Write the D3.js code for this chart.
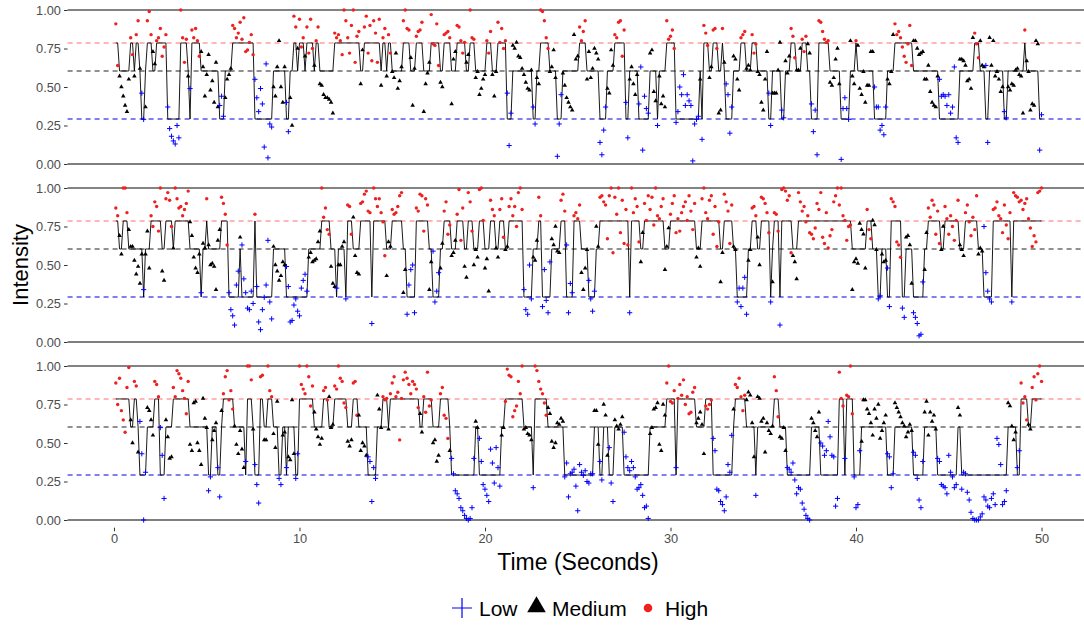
<!DOCTYPE html>
<html><head><meta charset="utf-8">
<script src="https://cdn.jsdelivr.net/npm/d3@7"></script>
<style>body{margin:0;background:#fff;} svg{display:block;font-family:"Liberation Sans",Arial,Helvetica,sans-serif;}</style>
</head><body><svg id="c" width="1084" height="628"></svg>
<script>
const stateNames = ["Low", "Medium", "High"];
const stateLevels = [0.292, 0.604, 0.786];
const yTicks = [0, 0.25, 0.5, 0.75, 1];
const yTickLabels = ["0.00", "0.25", "0.50", "0.75", "1.00"];
const xTicks = [0, 10, 20, 30, 40, 50];
const timeStep = 0.1;
// runs of [state (0 Low,1 Medium,2 High), intensity values in percent]
const panel1 = [[2,[91,64]],[1,[57,50,44,38,34,55]],[2,[82,71]],[1,[57]],[2,[84,93]],[1,[62]],[0,[46,29]],[1,[37]],[2,[93,99,84]],[1,[73,65]],[2,[80,82,88,70,76,84]],[0,[37,23,18,15,13,25,17]],[2,[100,82,66,81]],[1,[57]],[0,[49]],[2,[87,82,88,80,70]],[1,[73,63,44,58,71,48,54,40,66,37]],[0,[38,44,31]],[1,[43,55,58,62]],[2,[90,88,82,85,92,81,95,73,74,79,84,71]],[0,[55,43,34,49,39,11,65,4,26,24]],[1,[50,44,63,80,50,40,63]],[0,[40,21]],[1,[43,25]],[2,[96,89]],[1,[75]],[2,[94,76,82]],[1,[70]],[2,[89,72,94,75]],[1,[64]],[2,[80,89]],[1,[52,51,45,43,43,42,40,33]],[2,[85,82,84,80,71,100,93,82,72,90,100,66,83,86]],[1,[52,74]],[2,[89,96,72,90,67,93,85,66,94]],[1,[51]],[2,[82,88]],[1,[57]],[2,[84,72]],[1,[60,56,72,49,54,63]],[2,[93,100,88,87]],[1,[69,38,62]],[2,[83,86,87,92]],[1,[34,52,59,66]],[2,[97,78,77,91,64]],[1,[53,50]],[2,[84,85,86,82]],[1,[39,68,73]],[2,[90,89,80,72,79]],[1,[66,71]],[2,[100,82,81]],[1,[56,60,45,49,55,58]],[2,[80,72,86]],[1,[58,44,60]],[2,[92,79,88,75,80]],[0,[46,12,33]],[1,[77,75,79,70,69,62,58,53,49,48,61]],[0,[37,26]],[1,[56,52]],[2,[100,99,93,82,75]],[1,[60,63,74,56]],[0,[5,26,45]],[1,[59,51,43,40,37,35,84,68,70]],[2,[89,80,86,93]],[1,[55,73,56,62,75,72,68]],[0,[14,6,22,37]],[1,[49,46,74,64]],[2,[84,82,92,93,70,87]],[0,[40,17]],[1,[55,63,52,45,58]],[0,[39,63,9,44,36,33]],[1,[72,74,47,41]],[0,[25]],[1,[57,39,44,37]],[2,[93,81,83,87,75]],[0,[27,34,50,45,58,38,45,41,38,2,26,29,31]],[1,[55]],[0,[16]],[2,[90,85,77]],[1,[56,63]],[2,[87,88,75]],[1,[33,35]],[2,[88]],[1,[66]],[0,[52,45,20,37]],[1,[70,68,55,48]],[2,[82,84,86]],[1,[62,64,61]],[2,[84,72,78]],[1,[60,58,40,35,55,73]],[0,[46,25]],[1,[46,46,46,61,79]],[0,[35,30]],[1,[67,59,70]],[2,[88,83,69]],[1,[61,61,75]],[2,[81,73,83]],[1,[78,72]],[0,[39,21,35,6]],[2,[93,92,86,81,79,80]],[1,[53,51,56,68,75,52]],[0,[3,36,43,36,29]],[1,[80,57,52]],[2,[80]],[1,[77,49,45,60,40,51,51,73,73]],[0,[50,37,37,22,25,19,37]],[1,[55,52,60,84]],[2,[91,84,86,82,76,70,66,78,90,64]],[1,[80,80,75,71,72,73,55,55,64,47,40,38,37,57]],[0,[55,44,45,44,38,45,33,37,63,17,14]],[1,[68,68,67,64,54,55,49,82]],[2,[85,78,69]],[1,[80,64,63]],[0,[64,14]],[1,[82,64,80,57,60,55,47,50]],[0,[34,30]],[1,[50,48,52,51,61,62,58,57,33]],[2,[87]],[1,[67,60,35,39,38,80,78]],[0,[9,32]]];
const panel2 = [[2,[87,82]],[1,[69,57]],[2,[100,100,84]],[1,[73,62,62,53,44,49,38,57]],[0,[34]],[1,[57,72,48]],[2,[82,75,91,88,72,100]],[1,[46,40]],[2,[93,97,92,75]],[1,[61]],[2,[100,93,87,88,82,86,90,98]],[1,[78,69,55,48,45,57]],[0,[32]],[1,[64,61]],[2,[93]],[1,[63,50,51,49,34,66,73]],[2,[94,90,83,63]],[0,[32,21,17,11,37,46]],[1,[68]],[0,[63,41,32,22,21,33,25]],[2,[83]],[0,[36,13,8,21,29,37,66,26,15]],[1,[62,50,46,40,43,52,50]],[0,[49,36,13,14,24,28,20,17,35,40,44,33]],[1,[55,58,52,53,54,65,72]],[2,[100,81,87,73,70]],[1,[49,38,36]],[0,[35]],[1,[50,50,62,65]],[0,[28]],[2,[89,88,70]],[1,[81,56,45,44]],[2,[90,91,96,98,85,84]],[0,[12]],[2,[100,93,88,93,84,78,56]],[1,[43,65,62]],[2,[86,83,84,88,95,97]],[1,[32,47]],[0,[18,37,47,50,19]],[2,[87,85,96,95,72,93,89]],[1,[34,52]],[0,[59,26,33,45]],[1,[48,64]],[2,[85,91,70,76]],[1,[56,58,66]],[2,[83,99,66,87]],[1,[49,42]],[2,[97,91,72]],[1,[50,60,55]],[2,[99,100,79]],[1,[48,54,33]],[2,[92,86,82]],[1,[61,55]],[2,[86,93,68]],[1,[60,62]],[2,[88,93,82,88,75,97,100,86]],[0,[34,21,18,50,28]],[1,[55,53,66]],[2,[94,82]],[0,[23,47,27,19,52]],[1,[67,63,75,59,58]],[2,[92,96,85]],[0,[63,19,38,32]],[2,[82,84,80,89]],[1,[45,34,48,60]],[0,[40,28,20,33]],[1,[75,62]],[2,[94,95,91,89,67,95,100,58,94,83,100,71,92,64,86,63]],[0,[19]],[2,[100,84,93,88,65]],[1,[52,71]],[2,[90,79,95,86,94,76,100,82,80,88,93]],[1,[47,62,74]],[2,[83,90,95,71,80,72,84,88,91,79,95,85,73,90]],[1,[55,61,49]],[2,[93,100,84,80,92,95,70,88,62,78]],[1,[39,58]],[2,[96,91,85,64,89]],[1,[62,60]],[0,[26,35,23,35,42,18]],[1,[53,60]],[2,[87,88,82]],[1,[68,50]],[2,[94,93,90,84,71]],[0,[26]],[1,[39]],[2,[84,83,72]],[0,[11]],[2,[99,100,98,92,95,58]],[1,[56,52,41]],[2,[97,91,85,88,78,82,71,70,67,74,90,86,97,68,64,84,61,69,73,91,95,100,89,100,82,79,66,75,76]],[1,[34,52,54,51,77,73,70,48]],[2,[86,73,67]],[1,[79,76,60]],[0,[28,30]],[1,[57,52,53]],[0,[48,23]],[2,[93,91,88,65,63,55]],[0,[22,16]],[1,[68,69,63,38]],[0,[19,16,12,4,5,39]],[1,[47,71]],[2,[87,81,92,89,70,85,64]],[1,[60,75]],[2,[88,80,70,82,75,66,79,92]],[1,[63,60,56]],[2,[84,89,78,69,81,73,95]],[1,[57,61,59]],[0,[75,45,33,28,26]],[2,[86,87,91,82,80,71,89,76,67,84]],[0,[26]],[2,[97,95,94,91,92,86,90,93,80,74,62,69,65,97,98,100]]];
const panel3 = [[2,[89,75,92,71,65,57,86,99]],[1,[65,50]],[2,[90,87]],[1,[44]],[0,[64,43,0,31]],[1,[73,71,65,55]],[2,[90,88,80]],[0,[60,42,14]],[1,[65,54,40,41]],[2,[86,80,97,95,92,84,79,69,90]],[1,[49,45,76,77,50,45,36,79,66,60]],[0,[19,28]],[1,[52,58,63]],[0,[34,15]],[1,[71]],[2,[82,93,97,78,84,72]],[1,[61,49,43,58,46,34]],[0,[38]],[2,[100,100,91]],[1,[59]],[0,[36,23,11]],[2,[93,94]],[1,[52,52]],[2,[100,84,80]],[1,[56,47,77]],[0,[27,23]],[1,[55,57]],[0,[34]],[1,[41,39,78,43]],[0,[27,43]],[2,[100,88,85,82,100,93,74,87]],[1,[70,59,54,49,53]],[2,[84,86,78]],[1,[80,60,62]],[2,[87,85,100,92,90,76,73]],[1,[51,48,52]],[2,[89,90,68]],[1,[68,45,50,48,42]],[0,[41,38,12,34,27]],[1,[81,72,60]],[2,[80,78,79]],[1,[59]],[2,[82,89,93,80,83,52,79,91,96,92,88,82,90,88,85,73]],[1,[69,57]],[2,[80,70,96,74,78]],[1,[50,52,38,42]],[2,[82,86,68,66,53]],[1,[45]],[0,[40,30,19,17,14,8,6,3,1,0,1,8,40]],[1,[64,60]],[0,[53,38,23,20,16,12,46,37,24,47,34,22]],[1,[55,60]],[2,[77,98,94,93,67,71,74,90,82,100]],[1,[59,60,56,55,52]],[0,[21]],[2,[100,97,90,85,82,76,68]],[1,[73,69,51,47,50,63,62,66,64]],[0,[28,37,15,30,31,33,22,6,36,31,29,32,25,24,30,30]],[1,[71,71,49]],[0,[38,26]],[1,[75,68,42]],[0,[47,24,12]],[1,[65,61,59,62,67]],[0,[57,41,34,32,38,34,28,20,21,23,16,8,9,1]],[1,[56,60,72,73,76,49,45,75,68]],[2,[89,100,77,76,84]],[0,[34]],[2,[79,88,81,91,75,80,69,70,83,86]],[1,[63,66,70,62,43]],[2,[74,72,75,78]],[0,[53,45,20,19,12,10,6,15,36,31,55]],[1,[72]],[2,[88,86,92,80,71,81]],[1,[78,83,81,63,41]],[0,[16]],[1,[80,79,64,66,44,63,58,56,61]],[2,[93,84,67]],[1,[54,53,60,45]],[0,[34,33,31,37,26,17,21,20,11,7,3,1,0]],[1,[66,63,58,54,70]],[0,[50,48,42,45,64,54,42,41,9,14]],[2,[96,79,74]],[0,[40]],[2,[81,80,100,69]],[0,[28,8,10,45]],[1,[51,78,78,72,69,63,55,72,66,75,53,58,63,68]],[0,[43,41,21,30]],[1,[76,73,70,67,63,61,54,57,62,58]],[0,[44,42,27,13,8,38]],[1,[70,77,55,70,64,68,59]],[0,[40,38,23,22,21,17,42,31,28,21,23]],[1,[73,68]],[0,[20,31,30,18,13,5,1,0,0,0,2,4,15,13,9,8,14,17,10,53,49,36,10,12,19]],[1,[76,74,61,52,57]],[0,[34,45]],[2,[89,76,80,65]],[1,[62,59]],[2,[86,93,78,95,100,90]]];

const panels = [panel1, panel2, panel3];
const stateColors = ["#0000ff", "#000000", "#ee2020"];
const levelColors = ["#0000dd", "#222222", "#ff6e6e"];

function expand(runs) {
  const pts = []; let i = 0;
  runs.forEach(([s, vals]) => vals.forEach(v => { i++; pts.push({t: i * timeStep, v: v / 100, s}); }));
  return pts;
}

const svg = d3.select("#c");
const x = d3.scaleLinear().domain([-2.5, 52.5]).range([67.6, 1087.9]);
const panelStep = 178;
const plusPath = "M-2.6,0H2.6M0,-2.6V2.6";
const tri = d3.symbol().type(d3.symbolTriangle).size(9)();

panels.forEach((runs, p) => {
  const pts = expand(runs);
  const y = d3.scaleLinear().domain([0, 1]).range([164 + panelStep * p, 10 + panelStep * p]);
  const g = svg.append("g");
  g.append("line").attr("x1", x(-2.5)).attr("x2", x(52.5)).attr("y1", y(1)).attr("y2", y(1))
    .attr("stroke", "#5a5a5a").attr("stroke-width", 1.3);
  g.append("line").attr("x1", x(-2.5)).attr("x2", x(52.5)).attr("y1", y(0)).attr("y2", y(0))
    .attr("stroke", "#000").attr("stroke-width", 1.1);
  stateLevels.forEach((lv, k) => {
    g.append("line").attr("x1", x(-2.5)).attr("x2", x(52.5)).attr("y1", y(lv)).attr("y2", y(lv))
      .attr("stroke", levelColors[k]).attr("stroke-width", 1.1).attr("stroke-dasharray", "5,4");
  });
  const line = d3.line().x(d => x(d.t)).y(d => y(stateLevels[d.s]));
  g.append("path").datum(pts).attr("d", line).attr("fill", "none")
    .attr("stroke", "#000").attr("stroke-width", 0.9);
  const pg = g.append("g");
  pts.forEach(d => {
    const cx = x(d.t), cy = y(d.v);
    if (d.s === 0) {
      pg.append("path").attr("d", plusPath).attr("transform", `translate(${cx},${cy})`)
        .attr("stroke", stateColors[0]).attr("stroke-width", 1).attr("fill", "none");
    } else if (d.s === 1) {
      pg.append("path").attr("d", tri).attr("transform", `translate(${cx},${cy})`).attr("fill", stateColors[1]);
    } else {
      pg.append("circle").attr("cx", cx).attr("cy", cy).attr("r", 1.7).attr("fill", stateColors[2]);
    }
  });
  const ya = g.append("g").attr("transform", `translate(${x(-2.5)},0)`)
    .call(d3.axisLeft(y).tickValues(yTicks).tickFormat((d, i) => yTickLabels[i]).tickSize(3.6).tickPadding(3));
  ya.select(".domain").remove();
  ya.selectAll("line").attr("stroke", "#333");
  ya.selectAll("text").attr("fill", "#4d4d4d").style("font-size", "12.8px").style("font-family", "Liberation Sans, Arial, sans-serif");
});

const xa = svg.append("g").attr("transform", "translate(0,527.7)")
  .call(d3.axisBottom(x).tickValues(xTicks).tickFormat(d3.format("d")).tickSize(3.6).tickPadding(3));
xa.select(".domain").remove();
xa.selectAll("line").attr("stroke", "#333");
xa.selectAll("text").attr("fill", "#4d4d4d").style("font-size", "12.8px").style("font-family", "Liberation Sans, Arial, sans-serif");

svg.append("text").attr("x", 578).attr("y", 570).attr("text-anchor", "middle")
  .style("font-size", "23px").text("Time (Seconds)");
svg.append("text").attr("transform", "translate(28,265) rotate(-90)").attr("text-anchor", "middle")
  .style("font-size", "22px").text("Intensity");

const lg = svg.append("g").attr("transform", "translate(0,608)");
lg.append("path").attr("d", "M-10,0H10M0,-10V10").attr("transform", "translate(462,0)")
  .attr("stroke", stateColors[0]).attr("stroke-width", 1.2);
lg.append("text").attr("x", 479).attr("y", 8).style("font-size", "21px").text(stateNames[0]);
lg.append("path").attr("d", d3.symbol().type(d3.symbolTriangle).size(150)()).attr("transform", "translate(536.5,-1)").attr("fill", "#000");
lg.append("text").attr("x", 552).attr("y", 8).style("font-size", "21px").text(stateNames[1]);
lg.append("circle").attr("cx", 648).attr("cy", 0).attr("r", 4.3).attr("fill", stateColors[2]);
lg.append("text").attr("x", 665).attr("y", 8).style("font-size", "21px").text(stateNames[2]);
</script></body></html>
